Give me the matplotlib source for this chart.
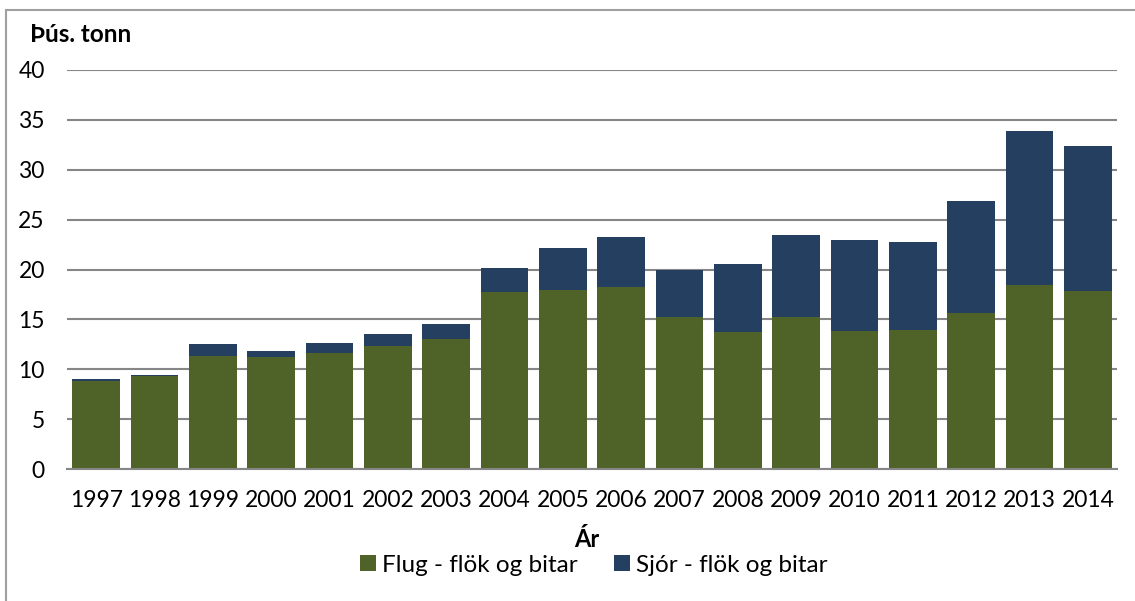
import numpy as np
import matplotlib.pyplot as plt
from matplotlib.patches import Rectangle

plt.rcParams['font.family'] = ['Lato', 'DejaVu Sans']

years = ['1997', '1998', '1999', '2000', '2001', '2002', '2003', '2004', '2005',
         '2006', '2007', '2008', '2009', '2010', '2011', '2012', '2013', '2014']
flug = [8.8, 9.3, 11.3, 11.2, 11.6, 12.3, 13.0, 17.7, 17.9,
        18.2, 15.2, 13.7, 15.2, 13.8, 13.9, 15.6, 18.4, 17.8]
total = [9.0, 9.4, 12.5, 11.8, 12.6, 13.5, 14.5, 20.2, 22.2,
         23.3, 19.95, 20.6, 23.5, 23.0, 22.75, 26.9, 33.85, 32.4]
sjor = [t - f for t, f in zip(total, flug)]

green = '#4f6228'
blue = '#243f60'
grid = '#868686'

fig = plt.figure(figsize=(11.35, 6.01), dpi=100)
W, H = 1135, 601
ax = fig.add_axes([67 / W, 1 - 469 / H, (1117 - 67) / W, (469 - 70) / H])

x = np.arange(len(years))
ax.bar(x, flug, width=0.82, color=green, label='Flug - flök og bitar', zorder=3)
ax.bar(x, sjor, width=0.82, bottom=flug, color=blue, label='Sjór - flök og bitar', zorder=3)

ax.set_xlim(-0.5, len(years) - 0.5)
ax.set_ylim(0, 40)
ax.set_yticks(range(0, 41, 5))
ax.set_xticks(x)
ax.set_xticklabels(years)
ax.yaxis.grid(True, color=grid, linewidth=1.5, zorder=0)
for s in ['top', 'right', 'left']:
    ax.spines[s].set_visible(False)
ax.spines['bottom'].set_color(grid)
ax.spines['bottom'].set_linewidth(1.5)
ax.spines['bottom'].set_zorder(4)
ax.tick_params(axis='both', length=0, labelsize=16.5, colors='black')
ax.tick_params(axis='y', pad=16)
ax.tick_params(axis='x', pad=15)

fig.text(30 / W, 1 - 42 / H, 'Þús. tonn', fontsize=17.5, fontweight='bold', va='baseline')
fig.text(587 / W, 1 - 547 / H, 'Ár', fontsize=17, fontweight='bold', ha='center', va='baseline')

fig.legend(loc='center', bbox_to_anchor=(594 / W, 1 - 565 / H), ncol=2, frameon=False,
           fontsize=17.5, handlelength=0.65, handleheight=0.65, handletextpad=0.25,
           columnspacing=1.5)

fig.patches.append(Rectangle((6 / W, -0.1), 1.2, 1 - 10 / H + 0.1, transform=fig.transFigure,
                             fill=False, edgecolor='#a0a0a0', linewidth=1.5))

fig.savefig('out.png', dpi=100)
